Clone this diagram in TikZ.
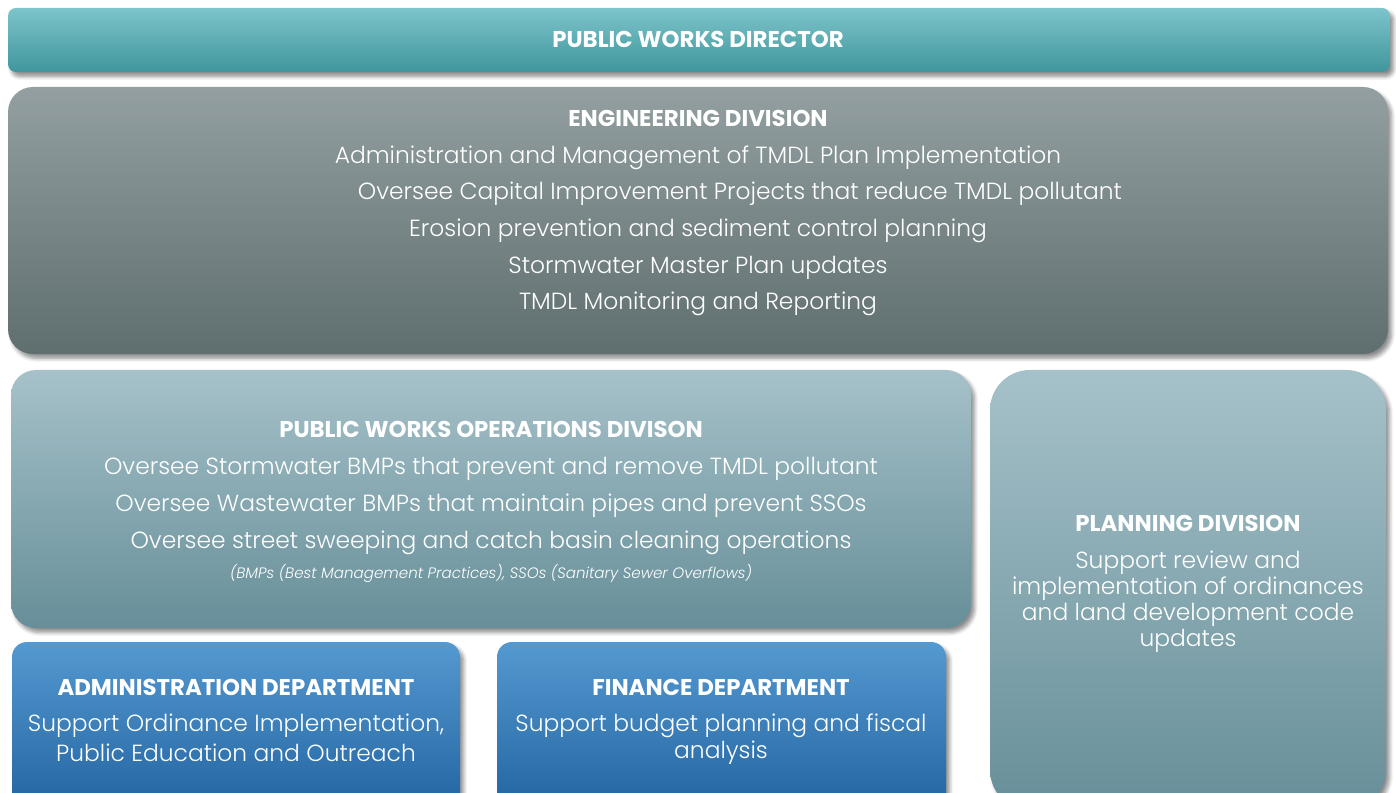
\documentclass[tikz,border=0pt]{standalone}
\usepackage{fontspec}
\setmainfont{Poppins}
\IfFontExistsTF{Poppins Light}
  {\newfontfamily\thinfont{Poppins Light}}
  {\newfontfamily\thinfont{Poppins}}
\usetikzlibrary{shadows.blur}

\definecolor{dirtop}{HTML}{7DC4CB}
\definecolor{dirbot}{HTML}{3F969C}
\definecolor{engtop}{HTML}{939FA0}
\definecolor{engbot}{HTML}{5F6E6F}
\definecolor{opstop}{HTML}{A6C1C9}
\definecolor{opsbot}{HTML}{678F99}
\definecolor{deptop}{HTML}{5599D1}
\definecolor{depbot}{HTML}{2264A0}

\tikzset{
  panel/.style={blur shadow={shadow xshift=2pt,shadow yshift=-2.5pt,
      shadow blur steps=6,shadow opacity=45}},
  head/.style={text=white,font=\fontsize{13}{15}\selectfont\bfseries},
  item/.style={text=white,font=\thinfont\fontsize{13.3}{15}\selectfont},
  note/.style={text=white,font=\thinfont\fontsize{8.6}{10}\selectfont\itshape},
}

\begin{document}
\begin{tikzpicture}[x=0.02cm,y=-0.02cm]
    \useasboundingbox (0,0) rectangle (1396,793);

    % panels
    \path[panel,top color=dirtop,bottom color=dirbot,rounded corners=0.16cm]
        (8,8) rectangle (1390,72);
    \path[panel,top color=engtop,bottom color=engbot,rounded corners=0.5cm]
        (8,87) rectangle (1388,354);
    \path[panel,top color=opstop,bottom color=opsbot,rounded corners=0.5cm]
        (11,370) rectangle (971,628);
    \path[panel,top color=opstop,bottom color=opsbot,rounded corners=0.8cm]
        (990,370) rectangle (1386,810);
    \path[panel,top color=deptop,bottom color=depbot,rounded corners=0.3cm]
        (12,642) rectangle (460,810);
    \path[panel,top color=deptop,bottom color=depbot,rounded corners=0.3cm]
        (497,642) rectangle (946,810);

    % director
    \node[head] (dir) at (698,39) {PUBLIC WORKS DIRECTOR};

    % engineering
    \node[head] (eng) at (698,118) {ENGINEERING DIVISION};
    \foreach \x/\t [count=\i] in {
        698/Administration and Management of TMDL Plan Implementation,
        740/Oversee Capital Improvement Projects that reduce TMDL pollutant,
        698/Erosion prevention and sediment control planning,
        698/Stormwater Master Plan updates,
        698/TMDL Monitoring and Reporting}
      \node[item] (eng\i) at (\x,121+36.6*\i) {\t};

    % operations
    \node[head] (ops) at (491,429) {PUBLIC WORKS OPERATIONS DIVISON};
    \foreach \t [count=\i] in {
        Oversee Stormwater BMPs that prevent and remove TMDL pollutant,
        Oversee Wastewater BMPs that maintain pipes and prevent SSOs,
        Oversee street sweeping and catch basin cleaning operations}
      \node[item] (ops\i) at (491,432+37*\i) {\t};
    \node[note] (opsnote) at (491,573)
        {(BMPs (Best Management Practices), SSOs (Sanitary Sewer Overflows)};

    % planning
    \node[head] (plan) at (1188,523) {PLANNING DIVISION};
    \foreach \t [count=\i] in {
        Support review and,
        implementation of ordinances,
        and land development code,
        updates}
      \node[item] (plan\i) at (1188,537+26*\i) {\t};

    % departments
    \node[head] (adm) at (236,687) {ADMINISTRATION DEPARTMENT};
    \node[item] (adm1) at (236,726) {Support Ordinance Implementation,};
    \node[item] (adm2) at (236,753) {Public Education and Outreach};

    \node[head] (fin) at (721,687) {FINANCE DEPARTMENT};
    \node[item] (fin1) at (721,726) {Support budget planning and fiscal};
    \node[item] (fin2) at (721,753) {analysis};
\end{tikzpicture}
\end{document}
